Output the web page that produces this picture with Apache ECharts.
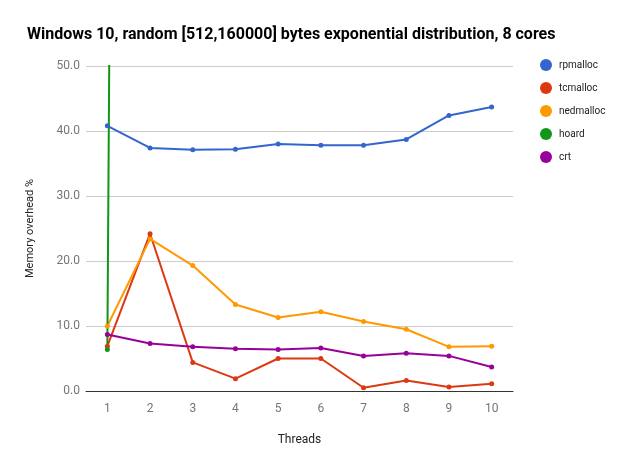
<!DOCTYPE html>
<html><head><meta charset="utf-8">
<script src="https://cdn.jsdelivr.net/npm/echarts@6/dist/echarts.min.js"></script>
<style>html,body{margin:0;padding:0;background:#fff}#c{width:629px;height:469px}</style>
</head><body><div id="c"></div>
<script>
const categories = ['1','2','3','4','5','6','7','8','9','10'];
const rpmalloc = [40.8, 37.4, 37.1, 37.2, 38.0, 37.8, 37.8, 38.7, 42.4, 43.7];
const tcmalloc = [6.9, 24.2, 4.4, 1.9, 5.0, 5.0, 0.5, 1.6, 0.6, 1.1];
const nedmalloc = [10.0, 23.4, 19.3, 13.3, 11.3, 12.2, 10.7, 9.5, 6.8, 6.9];
const hoard = [6.4, 1000, null, null, null, null, null, null, null, null];
const crt = [8.7, 7.3, 6.8, 6.5, 6.4, 6.6, 5.4, 5.8, 5.4, 3.7];
const seriesNames = ['rpmalloc','tcmalloc','nedmalloc','hoard','crt'];
const seriesData = [rpmalloc, tcmalloc, nedmalloc, hoard, crt];
const colors = ['#3366cc','#dc3912','#ff9900','#109618','#990099'];

const chart = echarts.init(document.getElementById('c'));
chart.setOption({
  animation: false,
  color: colors,
  textStyle: {fontFamily: 'Roboto'},
  title: {
    text: 'Windows 10, random [512,160000] bytes exponential distribution, 8 cores',
    left: 22, top: 22,
    textStyle: {fontFamily: 'Roboto', fontWeight: 'bold', fontSize: 16, color: '#000'}
  },
  legend: {
    orient: 'vertical', left: 540, top: 59, padding: 0,
    icon: 'circle', itemWidth: 12, itemHeight: 12, itemGap: 11,
    textStyle: {fontSize: 10, color: '#222', padding: [0, 0, 0, 2]},
    data: seriesNames
  },
  grid: {left: 86, right: 116, top: 66, bottom: 78, containLabel: false},
  xAxis: {
    type: 'category', data: categories, boundaryGap: true,
    name: 'Threads', nameLocation: 'middle', nameGap: 43,
    nameTextStyle: {fontSize: 12, color: '#222'},
    axisLine: {lineStyle: {color: '#333', width: 1}},
    axisTick: {show: false},
    axisLabel: {color: '#757575', fontSize: 12, margin: 12}
  },
  yAxis: {
    type: 'value', min: 0, max: 50, interval: 10,
    name: 'Memory overhead %', nameLocation: 'middle', nameGap: 50,
    nameTextStyle: {fontSize: 11, color: '#222'},
    axisLine: {show: false}, axisTick: {show: false},
    axisLabel: {color: '#757575', fontSize: 12, margin: 6, formatter: v => v.toFixed(1)},
    splitLine: {lineStyle: {color: '#cccccc'}}
  },
  series: seriesNames.map((n, i) => ({
    name: n, type: 'line', data: seriesData[i],
    symbol: 'circle', symbolSize: 5, showSymbol: true,
    lineStyle: {width: 2}, clip: true, connectNulls: false
  }))
});
</script></body></html>
